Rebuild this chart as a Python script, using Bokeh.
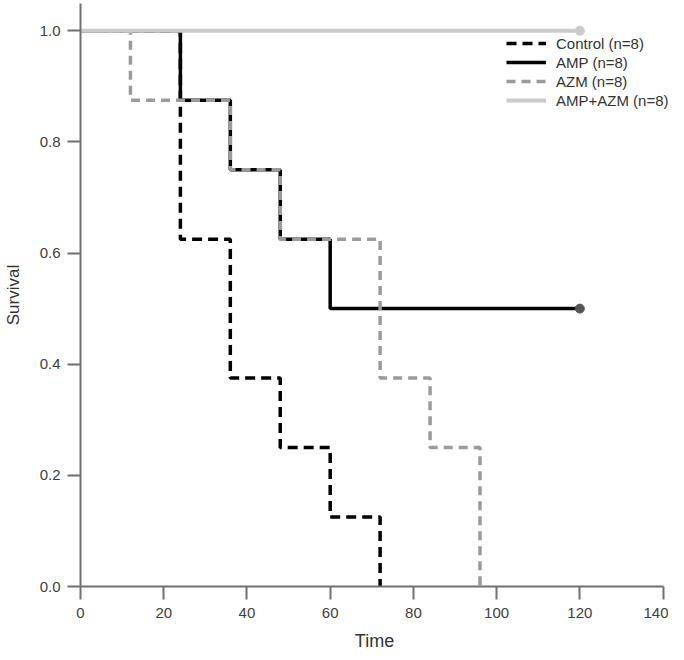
from bokeh.plotting import figure
from bokeh.models import FixedTicker, PrintfTickFormatter, Legend, LegendItem, Range1d
from bokeh.embed import file_html
from bokeh.resources import INLINE

# Kaplan-Meier step data (time, survival)
control_t = [0, 24, 36, 48, 60, 72]
control_s = [1.0, 0.625, 0.375, 0.25, 0.125, 0.0]

amp_t = [0, 24, 36, 48, 60, 120]
amp_s = [1.0, 0.875, 0.75, 0.625, 0.5, 0.5]

azm_t = [0, 12, 36, 48, 72, 84, 96]
azm_s = [1.0, 0.875, 0.75, 0.625, 0.375, 0.25, 0.0]

combo_t = [0, 120]
combo_s = [1.0, 1.0]

# censored end points
amp_cens_t = [120]
amp_cens_s = [0.5]
combo_cens_t = [120]
combo_cens_s = [1.0]

x_ticks = [0, 20, 40, 60, 80, 100, 120, 140]
y_ticks = [0.0, 0.2, 0.4, 0.6, 0.8, 1.0]

labels = ["Control (n=8)", "AMP (n=8)", "AZM (n=8)", "AMP+AZM (n=8)"]

FONT = "Liberation Sans"

p = figure(width=668, height=656, output_backend="svg", toolbar_location=None,
           x_range=Range1d(0, 141.3), y_range=Range1d(0, 1.049),
           min_border_left=72, min_border_right=0, min_border_top=3,
           min_border_bottom=70)
p.outline_line_color = None
p.grid.visible = False
p.background_fill_color = "white"

r_ctrl = p.step(control_t, control_s, mode="after", line_color="black",
                line_width=3.5, line_dash="10 6")
r_amp = p.step(amp_t, amp_s, mode="after", line_color="black", line_width=3.5)
r_azm = p.step(azm_t, azm_s, mode="after", line_color="#9b9b9b",
               line_width=3.5, line_dash="9 6")
r_combo = p.step(combo_t, combo_s, mode="after", line_color="#cbcbcb",
                 line_width=4)
p.scatter(amp_cens_t, amp_cens_s, size=9, color="#555555")
p.scatter(combo_cens_t, combo_cens_s, size=9, color="#cbcbcb")

for ax in (p.xaxis[0], p.yaxis[0]):
    ax.axis_line_color = "#707070"
    ax.axis_line_width = 2
    ax.major_tick_line_color = "#707070"
    ax.major_tick_line_width = 2
    ax.major_tick_out = 13
    ax.major_tick_in = 0
    ax.minor_tick_line_color = None
    ax.major_label_text_font = FONT
    ax.major_label_text_font_size = "15px"
    ax.major_label_text_color = "#404040"
    ax.axis_label_text_font = FONT
    ax.axis_label_text_font_style = "normal"
    ax.axis_label_text_color = "#333333"

p.xaxis.bounds = (0, 140)
p.xaxis.ticker = FixedTicker(ticks=x_ticks)
p.yaxis.ticker = FixedTicker(ticks=y_ticks)
p.yaxis.formatter = PrintfTickFormatter(format="%.1f")
p.xaxis.axis_label = "Time"
p.yaxis.axis_label = "Survival"
p.xaxis.axis_label_text_font_size = "18px"
p.yaxis.axis_label_text_font_size = "17px"
p.xaxis.major_label_standoff = 8
p.yaxis.major_label_standoff = 7
p.xaxis.axis_label_standoff = 10
p.yaxis.axis_label_standoff = 14

legend = Legend(items=[LegendItem(label=labels[0], renderers=[r_ctrl]),
                       LegendItem(label=labels[1], renderers=[r_amp]),
                       LegendItem(label=labels[2], renderers=[r_azm]),
                       LegendItem(label=labels[3], renderers=[r_combo])],
                location=(426, 477), padding=0, margin=0, spacing=1,
                glyph_width=40, glyph_height=18, label_height=18,
                label_standoff=10, border_line_color=None,
                background_fill_alpha=0,
                label_text_font=FONT, label_text_font_size="15px",
                label_text_color="#333333")
p.add_layout(legend, "center")

open("out.html", "w").write(file_html(p, INLINE))
